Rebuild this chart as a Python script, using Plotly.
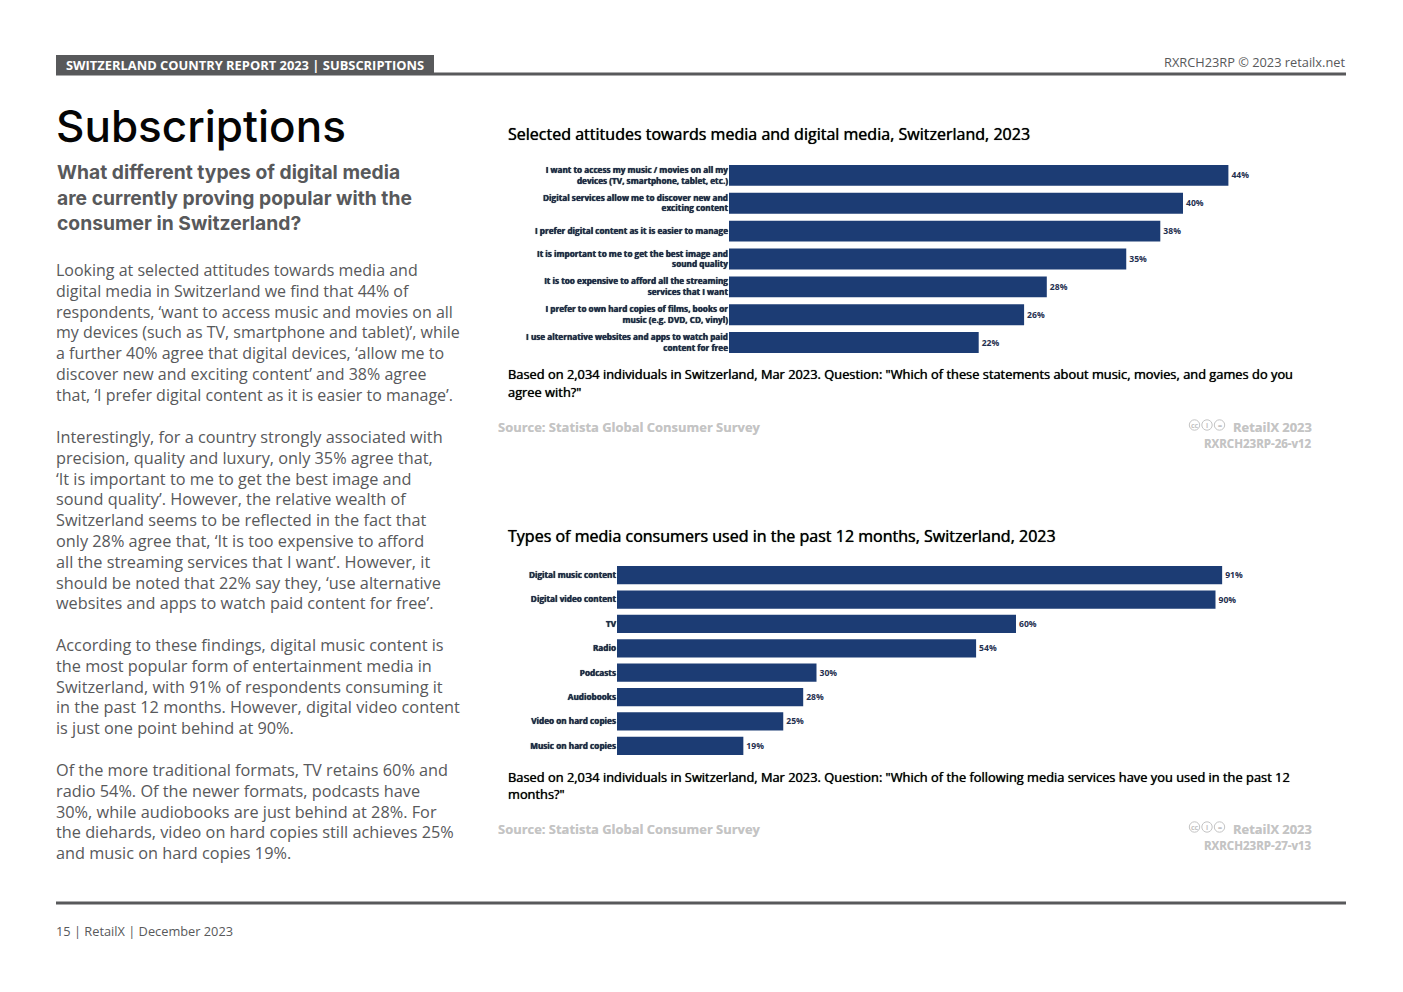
import plotly.graph_objects as go

W, H = 1403, 992

attitudes = [
    "I want to access my music / movies on all my<br>devices (TV, smartphone, tablet, etc.)",
    "Digital services allow me to discover new and<br>exciting content",
    "I prefer digital content as it is easier to manage",
    "It is important to me to get the best image and<br>sound quality",
    "It is too expensive to afford all the streaming<br>services that I want",
    "I prefer to own hard copies of films, books or<br>music (e.g. DVD, CD, vinyl)",
    "I use alternative websites and apps to watch paid<br>content for free",
]
attitude_values = [44, 40, 38, 35, 28, 26, 22]

media = ["Digital music content", "Digital video content", "TV", "Radio", "Podcasts",
         "Audiobooks", "Video on hard copies", "Music on hard copies"]
media_values = [91, 90, 60, 54, 30, 28, 25, 19]

paragraphs = [
    (270, 16.0, ["Looking at selected attitudes towards media and", "digital media in Switzerland we find that 44% of",
                 "respondents, ‘want to access music and movies on all", "my devices (such as TV, smartphone and tablet)’, while",
                 "a further 40% agree that digital devices, ‘allow me to", "discover new and exciting content’ and 38% agree",
                 "that, ‘I prefer digital content as it is easier to manage’."]),
    (437, 16.3, ["Interestingly, for a country strongly associated with", "precision, quality and luxury, only 35% agree that,",
                 "‘It is important to me to get the best image and", "sound quality’. However, the relative wealth of",
                 "Switzerland seems to be reflected in the fact that", "only 28% agree that, ‘It is too expensive to afford",
                 "all the streaming services that I want’. However, it", "should be noted that 22% say they, ‘use alternative",
                 "websites and apps to watch paid content for free’."]),
    (645, 16.3, ["According to these findings, digital music content is", "the most popular form of entertainment media in",
                 "Switzerland, with 91% of respondents consuming it", "in the past 12 months. However, digital video content",
                 "is just one point behind at 90%."]),
    (770, 16.3, ["Of the more traditional formats, TV retains 60% and", "radio 54%. Of the newer formats, podcasts have",
                 "30%, while audiobooks are just behind at 28%. For", "the diehards, video on hard copies still achieves 25%",
                 "and music on hard copies 19%."]),
]
heading_lines = ["What different types of digital media", "are currently proving popular with the", "consumer in Switzerland?"]

NAVY = "#1c3c74"
GREY = "#58595b"
LIGHT = "#c4c4c4"
OS = "Open Sans"
SOFT = "0 0 0.7px currentColor"
SOFT_LIGHT = "0 0 0.6px #d8d8d8"


def px(x):
    return x / W


def py(y):
    return 1 - y / H


def note(x, y, text, size, color, family=OS, bold=False, anchor="left", vanchor="middle", shadow=None, weight=None):
    font = dict(size=size, color=color, family=family)
    if shadow:
        font["shadow"] = shadow
    if weight:
        font["weight"] = weight
    fig.add_annotation(
        x=px(x), y=py(y), xref="paper", yref="paper", text=f"<b>{text}</b>" if bold else text,
        showarrow=False, xanchor=anchor, yanchor=vanchor, align=anchor,
        font=font, borderpad=0, borderwidth=0,
    )


fig = go.Figure()
value_font = dict(size=8.6, color="#1f2f4f", family=OS, weight="bold")
tick_font = dict(size=8.2, color="#1f2f4f", family=OS, weight="bold", shadow=SOFT)
fig.add_trace(go.Bar(
    y=attitudes, x=attitude_values, orientation="h", marker=dict(color=NAVY, line_width=0),
    xaxis="x", yaxis="y", texttemplate="%{x}%", textposition="outside", cliponaxis=False,
    textfont=value_font, constraintext="none", showlegend=False,
))
fig.add_trace(go.Bar(
    y=media, x=media_values, orientation="h", marker=dict(color=NAVY, line_width=0),
    xaxis="x2", yaxis="y2", texttemplate="%{x}%", textposition="outside", cliponaxis=False,
    textfont=value_font, constraintext="none", showlegend=False,
))

shapes = [
    dict(type="rect", xref="paper", yref="paper", x0=px(56), x1=px(434), y0=py(75), y1=py(55),
         fillcolor=GREY, line_width=0),
    dict(type="line", xref="paper", yref="paper", x0=px(56), x1=px(1346), y0=py(74), y1=py(74),
         line=dict(color=GREY, width=3)),
    dict(type="line", xref="paper", yref="paper", x0=px(56), x1=px(1346), y0=py(903), y1=py(903),
         line=dict(color=GREY, width=3)),
]
for top in (0, 402):
    for cx in (1194.5, 1207, 1219.5):
        shapes.append(dict(type="circle", xref="paper", yref="paper", x0=px(cx - 5.2), x1=px(cx + 5.2),
                           y0=py(425 + top + 5.2), y1=py(425 + top - 5.2), line=dict(color=LIGHT, width=1)))

fig.update_layout(
    width=W, height=H, margin=dict(l=0, r=0, t=0, b=0), paper_bgcolor="white", plot_bgcolor="white",
    bargap=0.25, showlegend=False, shapes=shapes,
    xaxis=dict(domain=[px(729), px(1296.5)], range=[0, 50], visible=False, anchor="y"),
    yaxis=dict(domain=[py(356.5), py(161.5)], autorange="reversed", anchor="x", ticklen=0, showline=False,
               showgrid=False, tickfont=tick_font, ticks="", ticklabelstandoff=0, automargin=False),
    xaxis2=dict(domain=[px(617), px(1282)], range=[0, 100], visible=False, anchor="y2"),
    yaxis2=dict(domain=[py(758), py(563)], autorange="reversed", anchor="x2", ticklen=0, showline=False,
                showgrid=False, tickfont=tick_font, ticks="", ticklabelstandoff=0, automargin=False),
)

note(66, 65, "SWITZERLAND COUNTRY REPORT 2023 | SUBSCRIPTIONS", 12.9, "white", bold=True)
note(1345, 62, "RXRCH23RP © 2023 retailx.net", 12.8, GREY, anchor="right")
note(56, 126, "Subscriptions", 44, "#050505", family="Inter", weight=500)
for i, line in enumerate(heading_lines):
    note(57, 172.5 + i * 25.3, line, 19.3, GREY, family="Inter", bold=True)
for y0, size, lines in paragraphs:
    for i, line in enumerate(lines):
        note(56, y0 + i * 20.8, line, size, GREY)
note(56, 931, "15 | RetailX | December 2023", 12.8, GREY)

for top, title, cap1, cap2, code in [
    (0, "Selected attitudes towards media and digital media, Switzerland, 2023",
     "Based on 2,034 individuals in Switzerland, Mar 2023. Question: \"Which of these statements about music, movies, and games do you",
     "agree with?\"", "RXRCH23RP-26-v12"),
    (402, "Types of media consumers used in the past 12 months, Switzerland, 2023",
     "Based on 2,034 individuals in Switzerland, Mar 2023. Question: \"Which of the following media services have you used in the past 12",
     "months?\"", "RXRCH23RP-27-v13"),
]:
    note(508, 134 + top, title, 16.05, "black", shadow=SOFT)
    note(508, 374.5 + top, cap1, 12.85, "black", shadow=SOFT)
    note(508, 392 + top, cap2, 12.85, "black", shadow=SOFT)
    note(498, 426.5 + top, "Source: Statista Global Consumer Survey", 12.95, LIGHT, bold=True, shadow=SOFT_LIGHT)
    note(1312, 426.5 + top, "RetailX 2023", 12.9, LIGHT, bold=True, anchor="right", shadow=SOFT_LIGHT)
    note(1312, 443.5 + top, code, 11.5, LIGHT, bold=True, anchor="right", shadow=SOFT_LIGHT)
    for cx, mark in [(1194.5, "cc"), (1207, "i"), (1219.5, "=")]:
        note(cx, 425 + top, mark, 7, LIGHT, bold=True, anchor="center")

fig.write_html("out.html", config=dict(displayModeBar=False), post_script="document.body.style.margin='0';")
